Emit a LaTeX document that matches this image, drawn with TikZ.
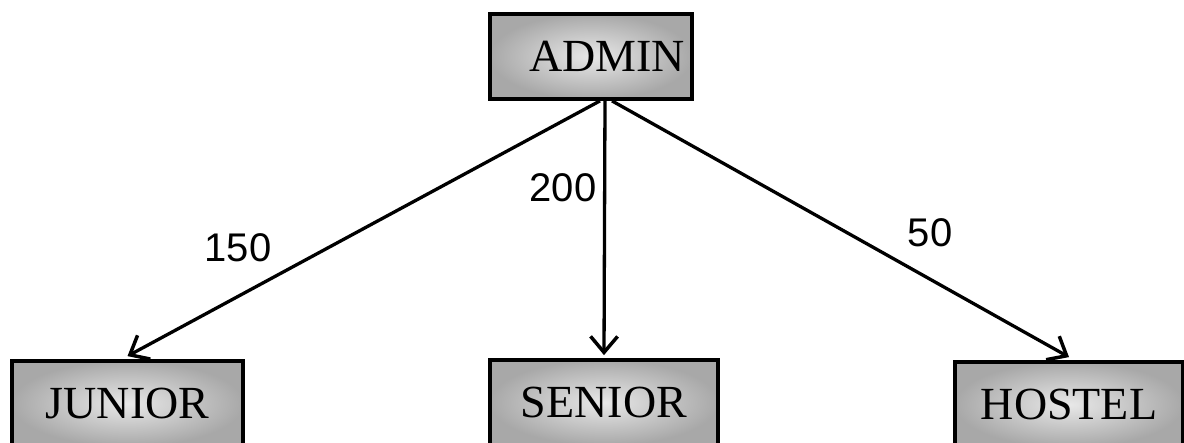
\documentclass[tikz,border=0pt]{standalone}
\usepackage{fontspec}
\setmainfont{Liberation Serif}
\newfontfamily\numfont{Liberation Sans}
\usetikzlibrary{arrows.meta}
\begin{document}
\begin{tikzpicture}[x=1pt,y=-1pt,
  boxnode/.style={draw=black, line width=3.8pt, inner color=gray!18, outer color=gray!68,
    minimum height=85pt, inner sep=0pt, font=\fontsize{46}{50}\selectfont},
  conn/.style={line width=3.3pt, -{Straight Barb[length=16pt,width=27pt,line width=3.5pt]}},
  lbl/.style={font=\numfont\fontsize{40}{44}\selectfont, inner sep=0pt}]
\useasboundingbox (0,0) rectangle (1184,442);
\clip (0,0) rectangle (1184,442);
\node[boxnode, minimum width=202pt, text width=188pt, align=right] (admin) at (591,56.5) {ADMIN};
\node[boxnode, minimum width=231pt] (junior) at (127.5,403.5) {JUNIOR};
\node[boxnode, minimum width=228pt] (senior) at (604,402.5) {SENIOR};
\node[boxnode, minimum width=228pt] (hostel) at (1069,404.5) {HOSTEL};
\draw[conn] ([xshift=9pt]admin.south) -- ([yshift=3pt]junior.north);
\draw[conn] ([xshift=14pt]admin.south) -- ([yshift=3pt]senior.north);
\draw[conn] ([xshift=21pt]admin.south) -- ([yshift=3pt]hostel.north);
\node[lbl] (l150) at (238,248) {150};
\node[lbl] (l200) at (563,188) {200};
\node[lbl] (l50) at (930,233) {50};
\end{tikzpicture}
\end{document}
